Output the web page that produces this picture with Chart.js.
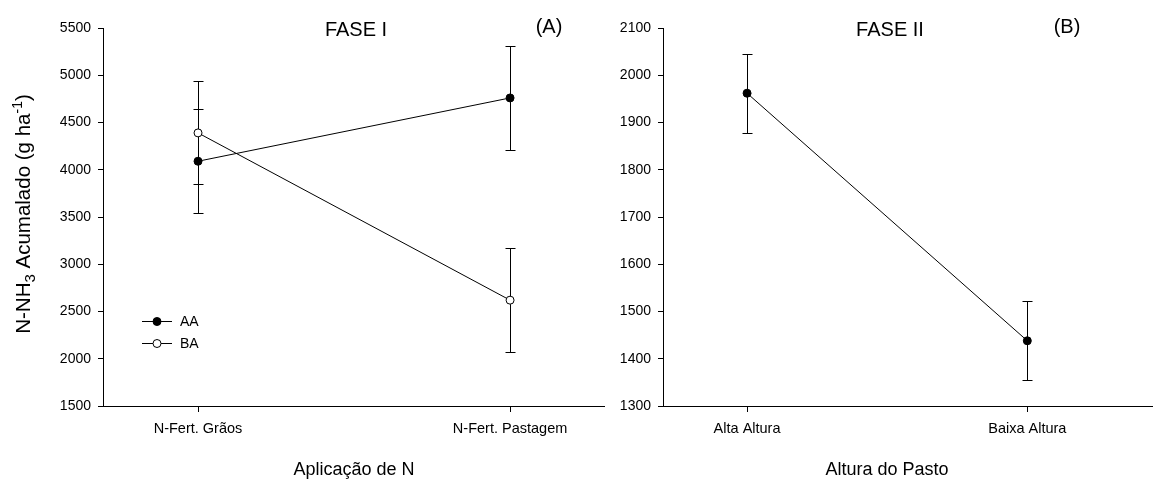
<!DOCTYPE html>
<html>
<head>
<meta charset="utf-8">
<script src="https://cdn.jsdelivr.net/npm/chart.js@4.4.1/dist/chart.umd.min.js"></script>
<style>
  html, body { margin: 0; padding: 0; background: #fff; }
  #wrap { position: relative; width: 1157px; height: 481px; }
  .panel { position: absolute; top: 0; height: 481px; }
</style>
</head>
<body>
<div id="wrap">
  <div class="panel" style="left:0;width:610px"><canvas id="chartA"></canvas></div>
  <div class="panel" style="left:610px;width:547px"><canvas id="chartB"></canvas></div>
</div>
<script>
// FASE I - N application
const fase1Labels = ['N-Fert. Grãos', 'N-Fert. Pastagem'];
const aaValues = [4090, 4760];
const aaErrors = [550, 550];
const baValues = [4390, 2620];
const baErrors = [545, 550];
const yTicksA = [1500, 2000, 2500, 3000, 3500, 4000, 4500, 5000, 5500];

// FASE II - pasture height
const fase2Labels = ['Alta Altura', 'Baixa Altura'];
const alturaValues = [1962, 1438];
const alturaErrors = [84, 84];
const yTicksB = [1300, 1400, 1500, 1600, 1700, 1800, 1900, 2000, 2100];

const FONT = "'Liberation Sans', Arial, sans-serif";

const errorBars = {
  id: 'errorBars',
  beforeDatasetsDraw(chart) {
    const { ctx, scales: { x, y } } = chart;
    ctx.save();
    ctx.strokeStyle = '#000';
    ctx.lineWidth = 1;
    chart.data.datasets.forEach(ds => {
      ds.data.forEach((p, i) => {
        const e = ds.errors[i];
        const px = Math.round(x.getPixelForValue(p.x)) + 0.5;
        const top = Math.round(y.getPixelForValue(p.y + e)) + 0.5;
        const bot = Math.round(y.getPixelForValue(p.y - e)) + 0.5;
        ctx.beginPath();
        ctx.moveTo(px, top); ctx.lineTo(px, bot);
        ctx.moveTo(px - 5, top); ctx.lineTo(px + 5, top);
        ctx.moveTo(px - 5, bot); ctx.lineTo(px + 5, bot);
        ctx.stroke();
      });
    });
    ctx.restore();
  }
};

const panelText = {
  id: 'panelText',
  afterDraw(chart, args, opts) {
    const ctx = chart.ctx;
    ctx.save();
    ctx.fillStyle = '#000';
    ctx.textBaseline = 'middle';
    ctx.textAlign = 'center';
    ctx.font = '20px ' + FONT;
    ctx.fillText(opts.title, opts.titleX, 30);
    ctx.fillText(opts.tag, opts.tagX, 27);
    ctx.font = '18px ' + FONT;
    ctx.fillText(opts.xTitle, opts.xTitleX, 470);

    if (opts.yTitle) {
      // rotated title with sub/superscript pieces
      const parts = opts.yTitle;
      let total = 0;
      parts.forEach(p => { ctx.font = p.size + 'px ' + FONT; p.w = ctx.measureText(p.t).width; total += p.w; });
      ctx.translate(23, 214);
      ctx.rotate(-Math.PI / 2);
      ctx.textAlign = 'left';
      ctx.textBaseline = 'alphabetic';
      let cx = -total / 2;
      parts.forEach(p => {
        ctx.font = p.size + 'px ' + FONT;
        ctx.fillText(p.t, cx, 7 + (p.dy || 0));
        cx += p.w;
      });
      ctx.setTransform(1, 0, 0, 1, 0, 0);
    }

    if (opts.legend) {
      const area = chart.chartArea;
      ctx.font = '14px ' + FONT;
      ctx.textAlign = 'left';
      ctx.textBaseline = 'middle';
      chart.data.datasets.forEach((ds, i) => {
        const ly = opts.legend.y[i];
        const lx = area.left + opts.legend.dx;
        ctx.strokeStyle = '#000';
        ctx.lineWidth = 1;
        ctx.beginPath();
        ctx.moveTo(lx, ly + 0.5); ctx.lineTo(lx + 30, ly + 0.5);
        ctx.stroke();
        ctx.beginPath();
        ctx.arc(lx + 15, ly + 0.5, 4, 0, Math.PI * 2);
        ctx.fillStyle = ds.pointBackgroundColor;
        ctx.fill();
        ctx.stroke();
        ctx.fillStyle = '#000';
        ctx.fillText(ds.label, lx + 38, ly + 1);
      });
    }
    ctx.restore();
  }
};

function toPoints(values) {
  return values.map((v, i) => ({ x: i, y: v }));
}

function series(label, values, errors, fill) {
  return {
    label: label,
    data: toPoints(values),
    errors: errors,
    borderColor: '#000',
    borderWidth: 1,
    pointRadius: 4,
    pointHoverRadius: 4,
    pointBorderWidth: 1,
    pointBorderColor: '#000',
    pointBackgroundColor: fill,
    tension: 0
  };
}

function scalesFor(labels, yTicks, xMin, xMax, yWidth) {
  return {
    x: {
      type: 'linear',
      min: xMin,
      max: xMax,
      bounds: 'data',
      afterBuildTicks: axis => { axis.ticks = labels.map((l, i) => ({ value: i })); },
      afterFit: axis => { axis.height = 75; },
      ticks: {
        callback: v => labels[v],
        color: '#000',
        font: { family: FONT, size: 14.5 },
        padding: 8,
        maxRotation: 0,
        autoSkip: false
      },
      grid: { drawOnChartArea: false, drawTicks: true, tickLength: 6, color: '#000' },
      border: { display: true, color: '#000', width: 1 }
    },
    y: {
      min: yTicks[0],
      max: yTicks[yTicks.length - 1],
      afterFit: axis => { axis.width = yWidth; },
      ticks: {
        stepSize: yTicks[1] - yTicks[0],
        callback: v => String(v),
        color: '#000',
        font: { family: FONT, size: 14 },
        padding: 7
      },
      grid: { drawOnChartArea: false, drawTicks: true, tickLength: 5, color: '#000' },
      border: { display: true, color: '#000', width: 1 }
    }
  };
}

new Chart(document.getElementById('chartA'), {
  type: 'line',
  data: {
    datasets: [
      series('AA', aaValues, aaErrors, '#000'),
      series('BA', baValues, baErrors, '#fff')
    ]
  },
  plugins: [errorBars, panelText],
  options: {
    responsive: true,
    maintainAspectRatio: false,
    animation: false,
    layout: { padding: { top: 28, right: 6, left: 0, bottom: 0 } },
    plugins: {
      legend: { display: false },
      tooltip: { enabled: false },
      panelText: {
        title: 'FASE I', titleX: 356,
        tag: '(A)', tagX: 549,
        xTitle: 'Aplicação de N', xTitleX: 354,
        yTitle: [
          { t: 'N-NH', size: 20.5 },
          { t: '3', size: 15, dy: 5 },
          { t: ' Acumalado (g ha', size: 20.5 },
          { t: '-1', size: 14, dy: -8 },
          { t: ')', size: 20.5 }
        ],
        legend: { dx: 39, y: [321, 343] }
      }
    },
    scales: scalesFor(fase1Labels, yTicksA, -0.3045, 1.301, 103)
  }
});

new Chart(document.getElementById('chartB'), {
  type: 'line',
  data: {
    datasets: [series('FASE II', alturaValues, alturaErrors, '#000')]
  },
  plugins: [errorBars, panelText],
  options: {
    responsive: true,
    maintainAspectRatio: false,
    animation: false,
    layout: { padding: { top: 28, right: 0, left: 0, bottom: 0 } },
    plugins: {
      legend: { display: false },
      tooltip: { enabled: false },
      panelText: {
        title: 'FASE II', titleX: 280,
        tag: '(B)', tagX: 457,
        xTitle: 'Altura do Pasto', xTitleX: 277
      }
    },
    scales: scalesFor(fase2Labels, yTicksB, -0.3, 1.445, 53)
  }
});
</script>
</body>
</html>
